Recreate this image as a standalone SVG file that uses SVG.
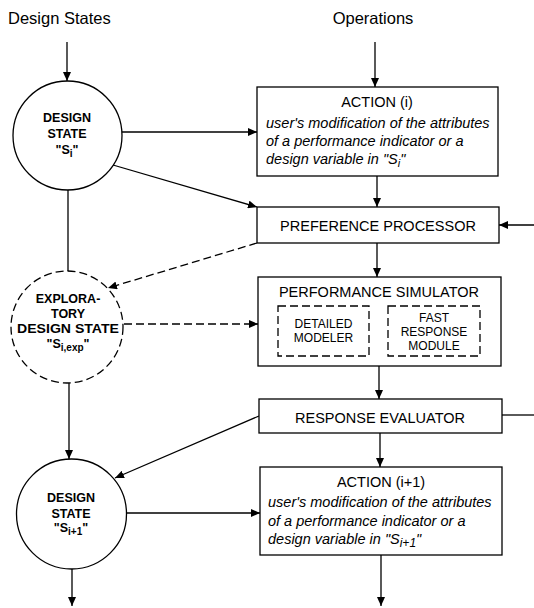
<svg xmlns="http://www.w3.org/2000/svg" width="534" height="608" viewBox="0 0 534 608">
<style>
text{font-family:"Liberation Sans",Arial,sans-serif;fill:#000}
.title{font-size:16.5px}
.box{fill:#fff;stroke:#000;stroke-width:1.3}
.circ{fill:#fff;stroke:#000;stroke-width:1.3}
.dash{stroke-dasharray:8 4}
.bt{font-size:14.5px;text-anchor:middle}
.it{font-size:14.5px;font-style:italic}
.ct{font-size:12.5px;font-weight:bold;text-anchor:middle}
.in{font-size:12px;text-anchor:middle}
.c{fill:none;stroke:#000;stroke-width:1.3}
</style>
<defs>
<marker id="ah" markerUnits="userSpaceOnUse" markerWidth="10" markerHeight="8" refX="9" refY="4" orient="auto">
<path d="M0,0 L9,4 L0,8 z" fill="#000"/>
</marker>
</defs>
<rect width="534" height="608" fill="#fff"/>
<text class="title" x="8" y="24">Design States</text>
<text class="title" x="373" y="24" text-anchor="middle">Operations</text>
<g id="connectors">
<line class="c" x1="67" y1="42" x2="67" y2="81" marker-end="url(#ah)"/>
<line class="c" x1="375" y1="42" x2="375" y2="87" marker-end="url(#ah)"/>
<line class="c" x1="122" y1="132" x2="257" y2="132" marker-end="url(#ah)"/>
<line class="c" x1="113" y1="165" x2="257" y2="207" marker-end="url(#ah)"/>
<line class="c" x1="377" y1="176" x2="377" y2="207" marker-end="url(#ah)"/>
<line class="c" x1="534" y1="225" x2="499" y2="225" marker-end="url(#ah)"/>
<line class="c" x1="68" y1="190" x2="68" y2="271"/>
<line class="c dash" x1="257" y1="243" x2="108" y2="288" marker-end="url(#ah)"/>
<line class="c dash" x1="124" y1="324" x2="258" y2="324" marker-end="url(#ah)"/>
<line class="c" x1="377" y1="243" x2="377" y2="277" marker-end="url(#ah)"/>
<line class="c" x1="379" y1="366" x2="379" y2="399" marker-end="url(#ah)"/>
<line class="c" x1="502" y1="415" x2="534" y2="415"/>
<line class="c" x1="69" y1="383" x2="69" y2="459" marker-end="url(#ah)"/>
<line class="c" x1="259" y1="416" x2="115" y2="478" marker-end="url(#ah)"/>
<line class="c" x1="380" y1="433" x2="380" y2="467" marker-end="url(#ah)"/>
<line class="c" x1="126" y1="513" x2="260" y2="513" marker-end="url(#ah)"/>
<line class="c" x1="72" y1="569" x2="72" y2="606" marker-end="url(#ah)"/>
<line class="c" x1="381" y1="555" x2="381" y2="606" marker-end="url(#ah)"/>
</g>
<g id="state-i">
<circle class="circ" cx="67.5" cy="135.5" r="54.5"/>
<text class="ct" x="67" y="122">DESIGN</text>
<text class="ct" x="67" y="138">STATE</text>
<text class="ct" x="67" y="154">"S<tspan font-size="10" dy="3">i</tspan><tspan dy="-3">"</tspan></text>
</g>
<g id="action-i">
<rect class="box" x="257" y="87" width="241" height="89"/>
<text class="bt" x="377" y="107">ACTION (i)</text>
<text class="it" x="266" y="128">user's modification of the attributes</text>
<text class="it" x="266" y="146">of a performance indicator or a</text>
<text class="it" x="266" y="164">design variable in "S<tspan font-size="11" dy="3">i</tspan><tspan dy="-3">"</tspan></text>
</g>
<g id="preference-processor">
<rect class="box" x="257" y="207" width="242" height="36"/>
<text class="bt" x="378" y="231">PREFERENCE PROCESSOR</text>
</g>
<g id="exploratory-state">
<circle class="circ dash" cx="67" cy="327" r="56"/>
<text class="ct" x="68" y="303">EXPLORA-</text>
<text class="ct" x="68" y="318">TORY</text>
<text class="ct" x="68" y="333" textLength="102" lengthAdjust="spacingAndGlyphs">DESIGN STATE</text>
<text class="ct" x="68" y="348">"S<tspan font-size="10" dy="3">i,exp</tspan><tspan dy="-3">"</tspan></text>
</g>
<g id="performance-simulator">
<rect class="box" x="258" y="277" width="243" height="89"/>
<text class="bt" x="379" y="297">PERFORMANCE SIMULATOR</text>
<g id="detailed-modeler">
<rect class="box dash" x="278" y="306" width="91" height="50"/>
<text class="in" x="323.5" y="328">DETAILED</text>
<text class="in" x="323.5" y="342">MODELER</text>
</g>
<g id="fast-response-module">
<rect class="box dash" x="388" y="306" width="92" height="50"/>
<text class="in" x="434" y="322">FAST</text>
<text class="in" x="434" y="336">RESPONSE</text>
<text class="in" x="434" y="350">MODULE</text>
</g>
</g>
<g id="response-evaluator">
<rect class="box" x="259" y="399" width="243" height="34"/>
<text class="bt" x="380" y="423">RESPONSE EVALUATOR</text>
</g>
<g id="state-i1">
<circle class="circ" cx="71.5" cy="514" r="55"/>
<text class="ct" x="71" y="502">DESIGN</text>
<text class="ct" x="71" y="518">STATE</text>
<text class="ct" x="71" y="532">"S<tspan font-size="10" dy="3">i+1</tspan><tspan dy="-3">"</tspan></text>
</g>
<g id="action-i1">
<rect class="box" x="260" y="467" width="242" height="88"/>
<text class="bt" x="381" y="487">ACTION (i+1)</text>
<text class="it" x="268" y="507">user's modification of the attributes</text>
<text class="it" x="268" y="526">of a performance indicator or a</text>
<text class="it" x="268" y="544">design variable in "S<tspan font-size="12" dy="3">i+1</tspan><tspan dy="-3">"</tspan></text>
</g>
</svg>
